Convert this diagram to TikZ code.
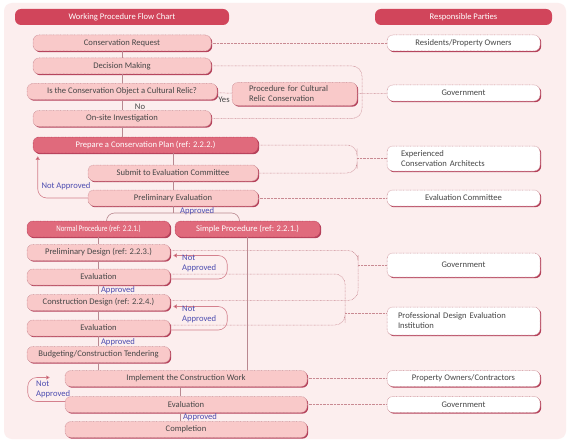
\documentclass[tikz,border=0pt]{standalone}
\usepackage{fontspec}
\setmainfont{Carlito}
\usetikzlibrary{arrows.meta,shadows}
\definecolor{bgpink}{HTML}{FCEEEE}
\definecolor{headred}{HTML}{D1455B}
\definecolor{keypink}{HTML}{E06A7C}
\definecolor{lightpink}{HTML}{F9C9C9}
\definecolor{edgered}{HTML}{B5405A}
\definecolor{dotred}{HTML}{C98A92}
\definecolor{flowred}{HTML}{B98890}
\definecolor{loopred}{HTML}{C24A5C}
\definecolor{lblblue}{HTML}{4C4CB0}
\definecolor{txtgray}{HTML}{474747}
\newcommand\boxfont{\fontsize{8.6}{10}\selectfont}
\begin{document}
\begin{tikzpicture}[x=1pt,y=-1pt,
  head/.style={fill=headred,text=white,rounded corners=6pt,minimum height=16pt,inner sep=1pt,font=\boxfont},
  box/.style={rounded corners=6pt,minimum height=16pt,inner sep=1pt,font=\boxfont,dash pattern=on 0.7pt off 0.7pt,line width=0.5pt,
    drop shadow={shadow xshift=1.2pt,shadow yshift=-1.2pt,fill=edgered,opacity=1}},
  proc/.style={box,fill=lightpink,draw=dotred,text=txtgray},
  keyproc/.style={box,fill=keypink,draw=edgered,text=white},
  party/.style={box,fill=white,draw=dotred,text=txtgray,minimum width=153pt},
  link/.style={draw=dotred,dash pattern=on 0.7pt off 0.7pt,line width=0.5pt},
  flow/.style={draw=flowred,line width=0.6pt},
  back/.style={draw=loopred!70!white,line width=0.6pt,rounded corners=9pt,-{Triangle[length=3.5pt,width=4pt,fill=loopred]}},
  lbl/.style={text=lblblue,font=\boxfont,inner sep=0pt},
  yesno/.style={text=txtgray,font=\boxfont,inner sep=0pt}]
\pgfmathsetmacro\px{463.5}
\useasboundingbox (0,0) rectangle (569,441);
\fill[white] (0,0) rectangle (569,441);
\fill[bgpink,rounded corners=8pt] (4,3) rectangle (566,439);
\node[head,minimum width=214pt] (headL) at (122,17) {Working Procedure Flow Chart};
\node[head,minimum width=177pt] (headR) at (\px,17) {Responsible Parties};
\node[proc,minimum width=178pt] (req) at (122,43) {Conservation Request};
\node[proc,minimum width=178pt] (dec) at (122,66) {Decision Making};
\node[proc,minimum width=190pt] (relic) at (122,91.5) {Is the Conservation Object a Cultural Relic?};
\node[proc,minimum width=178pt] (site) at (122,118.5) {On-site Investigation};
\node[proc,minimum height=23pt,text width=91pt,inner xsep=17pt,align=left] (crp) at (294.5,94) {Procedure for Cultural\\Relic Conservation};
\node[keyproc,minimum width=225pt] (prep) at (145.5,145) {Prepare a Conservation Plan (ref: 2.2.2.)};
\node[proc,minimum width=170pt] (sub) at (173,173) {Submit to Evaluation Committee};
\node[proc,minimum width=170pt] (peval) at (173,198) {Preliminary Evaluation};
\node[keyproc,minimum width=143pt] (norm) at (98.5,229) {\scalebox{0.8}[1]{Normal Procedure (ref: 2.2.1.)}};
\node[keyproc,minimum width=145pt] (simp) at (247.5,229) {Simple Procedure (ref: 2.2.1.)};
\node[proc,minimum width=143pt] (pd) at (98.5,252.5) {Preliminary Design (ref: 2.2.3.)};
\node[proc,minimum width=143pt] (ev1) at (98.5,277) {Evaluation};
\node[proc,minimum width=143pt] (cd) at (98.5,302.5) {Construction Design (ref: 2.2.4.)};
\node[proc,minimum width=143pt] (ev2) at (98.5,328) {Evaluation};
\node[proc,minimum width=143pt] (bud) at (98.5,354.5) {Budgeting/Construction Tendering};
\node[proc,minimum width=242pt] (impl) at (186,378.5) {Implement the Construction Work};
\node[proc,minimum width=242pt] (ev3) at (186,404.5) {Evaluation};
\node[proc,minimum width=242pt] (comp) at (186,429.5) {Completion};
\foreach \nm/\yy/\txt in {res/43/{Residents/Property Owners},gov1/93/Government,evc/198/{Evaluation Committee},poc/378.5/{Property Owners/Contractors},gov3/404.5/Government}
  \node[party] (\nm) at (\px,\yy) {\txt};
\node[party,minimum height=24pt] (gov2) at (\px,265) {Government};
\node[party,minimum height=25pt,text width=125pt,inner xsep=14pt,align=left] (arch) at (\px,158.5) {Experienced\\Conservation Architects};
\node[party,minimum height=28pt,text width=131pt,inner xsep=11pt,align=left] (prof) at (\px,321) {Professional Design Evaluation\\Institution};
\coordinate (brA) at (362,93);
\coordinate (brB) at (357,158.5);
\coordinate (brC) at (358,265);
\coordinate (brD) at (345,313);
\coordinate (fork) at (173,213);
\draw[flow] (req) -- (dec) (dec) -- (relic) (relic) -- (site) (site.south) -- (site.south |- prep.north);
\draw[flow] (sub.north |- prep.south) -- (sub.north) (sub) -- (peval) (peval.south) -- (fork);
\draw[flow,rounded corners=8pt] ([xshift=8pt]norm.north) |- (fork) -| ([xshift=-8pt]simp.north);
\draw[flow] (simp.south) -- (simp.south |- impl.north);
\draw[flow] (norm) -- (pd) (pd) -- (ev1) (ev1) -- (cd) (cd) -- (ev2) (ev2) -- (bud) (bud.south) -- (bud.south |- impl.north);
\draw[flow] ([xshift=-6pt]impl.south) -- ([xshift=-6pt]ev3.north) ([xshift=-6pt]ev3.south) -- ([xshift=-6pt]comp.north);
\draw[link] (req) -- (res);
\draw[link,rounded corners=10pt] (dec.east) -| (brA) |- (site.east);
\draw[link] (relic) -- (crp) (crp) -- (gov1);
\draw[link,rounded corners=10pt] (prep.east) -| (brB) |- (sub.east);
\draw[link] (brB) -- (arch.west);
\draw[link] (peval) -- (evc);
\draw[link,rounded corners=10pt] ([yshift=2pt]pd.east) -| (brC) |- ([yshift=2pt]cd.east);
\draw[link] (brC) -- (gov2.west);
\draw[link,rounded corners=10pt] ([yshift=3pt]ev1.east) -| (brD) |- ([yshift=3pt]ev2.east);
\draw[link] (brD) -- (brD -| prof.west);
\draw[link] (impl) -- (poc) (ev3) -- (gov3);
\draw[back] (peval.west) -| ([xshift=5pt,yshift=-3pt]prep.south west);
\draw[back] ([yshift=-2pt]ev1.east) -- ++(57,0) |- ([xshift=3pt,yshift=-3pt]pd.east);
\draw[back] ([yshift=-2pt]ev2.east) -- ++(57,0) |- ([xshift=3pt,yshift=-4pt]cd.east);
\draw[back] ([yshift=3pt]ev3.west) -- ++(-37,0) |- ([xshift=-15pt,yshift=1pt]impl.west);
\node[yesno] (no) at (140,106.5) {No};
\node[yesno] (yes) at (224,100) {Yes};
\node[lbl] (na1) at (66,186) {Not Approved};
\node[lbl,anchor=west] (ap1) at (180,211) {Approved};
\node[lbl,align=left,anchor=west] (na2) at (182,263) {Not\\Approved};
\node[lbl] (ap2) at (118,290) {Approved};
\node[lbl,align=left,anchor=west] (na3) at (182,314) {Not\\Approved};
\node[lbl] (ap3) at (118,342) {Approved};
\node[lbl,align=left,anchor=west] (na4) at (36,389) {Not\\Approved};
\node[lbl] (ap4) at (200,417) {Approved};
\end{tikzpicture}
\end{document}
